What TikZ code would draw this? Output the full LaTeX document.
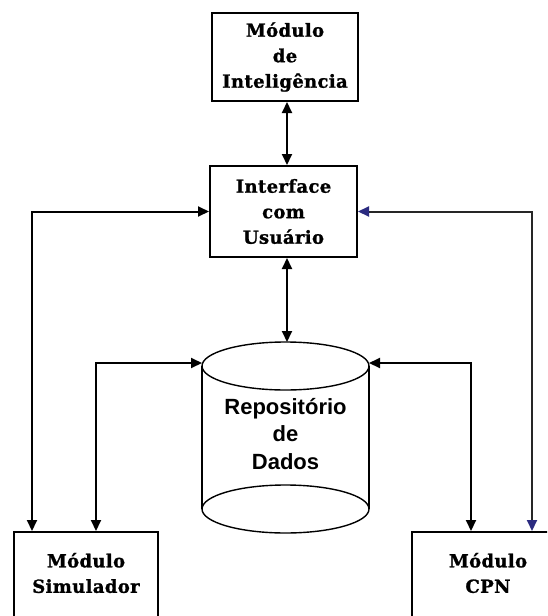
\documentclass[tikz,border=0pt]{standalone}
\usepackage{fontspec}
\usetikzlibrary{arrows.meta,calc}
\newfontfamily\boxfont[LetterSpace=2,FakeBold=1.2]{DejaVu Serif Bold}
\newfontfamily\repofont{Liberation Sans Bold}
\definecolor{tipblue}{HTML}{2B2B80}
\begin{document}
\begin{tikzpicture}[x=1pt,y=-1pt,
  box/.style={draw=black, line width=2pt, fill=white, inner sep=0pt},
  boxtext/.style={align=center, inner sep=0pt,
    font=\boxfont\fontsize{18}{25.5}\selectfont},
  repotext/.style={align=center, inner sep=0pt,
    font=\repofont\fontsize{22}{27.5}\selectfont},
  link/.style={draw=black, line width=2pt,
    {Triangle[length=11pt,width=10pt]}-{Triangle[length=11pt,width=10pt]}},
  bluelink/.style={draw=black!85, line width=2pt,
    {Triangle[length=11pt,width=10pt,color=tipblue]}-{Triangle[length=11pt,width=10pt,color=tipblue]}},
  cyl/.style={draw=black, line width=1.4pt}]
\useasboundingbox (0,0) rectangle (547,616);
\fill[white] (0,0) rectangle (547,616);
\clip (0,0) rectangle (547,616);

% upper modules
\node[box, boxtext, minimum width=146pt, minimum height=88pt] (intel) at (285,57)
  {Módulo\\de\\Inteligência};
\node[box, boxtext, minimum width=147pt, minimum height=91pt] (ui) at (283.5,211.5)
  {Interface\\com\\Usuário};

% data repository drawn as a cylinder
\coordinate (repoTop) at (285.5,342);
\coordinate (repoL) at (202,363);
\coordinate (repoR) at (369,363);
\draw[cyl] (202,366) -- (202,509);
\draw[cyl] (369,366) -- (369,509);
\draw[cyl] (285.5,366) ellipse [x radius=83.5, y radius=24];
\draw[cyl] (285.5,509) ellipse [x radius=83.5, y radius=24];
\node[repotext] (repo) at (285.5,434) {Repositório\\de\\Dados};

% lower modules (running past the lower edge)
\node[box, minimum width=144pt, minimum height=109pt, anchor=north] (sim) at (86,531) {};
\node[boxtext] (simtext) at (86,573) {Módulo\\Simulador};
\node[box, minimum width=152pt, minimum height=109pt, anchor=north] (cpn) at (488,531) {};
\node[boxtext] (cpntext) at (488,573) {Módulo\\CPN};

% connectors
\draw[link] (intel.south -| 287,0) -- (ui.north -| 287,0);
\draw[link] (ui.south -| 287,0) -- (repoTop -| 287,0);
\draw[link] (ui.west) -| (sim.north -| 32,0);
\draw[bluelink] (ui.east) -| (cpn.north -| 532,0);
\draw[link] (repoL) -| (sim.north -| 96,0);
\draw[link] (repoR) -| (cpn.north -| 471,0);
\end{tikzpicture}
\end{document}
